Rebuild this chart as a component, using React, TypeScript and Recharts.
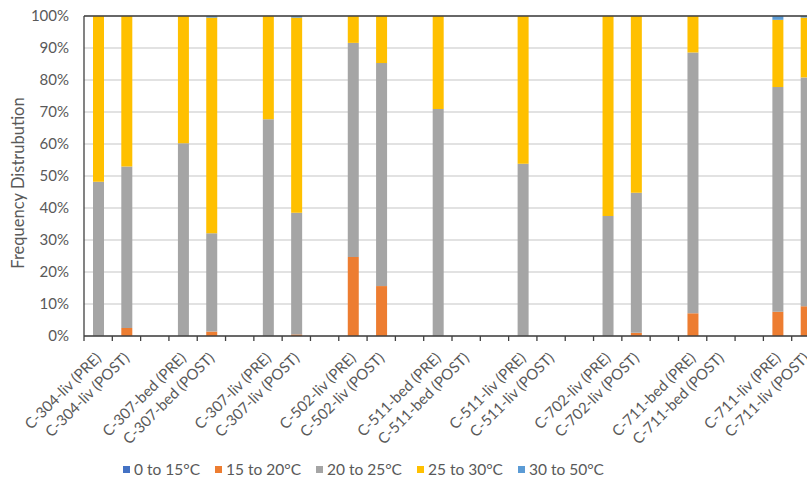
import { BarChart, Bar, XAxis, YAxis, CartesianGrid, Legend, ReferenceLine } from 'recharts';

const labels = [
  'C-304-liv (PRE)', 'C-304-liv (POST)', '',
  'C-307-bed (PRE)', 'C-307-bed (POST)', '',
  'C-307-liv (PRE)', 'C-307-liv (POST)', '',
  'C-502-liv (PRE)', 'C-502-liv (POST)', '',
  'C-511-bed (PRE)', 'C-511-bed (POST)', '',
  'C-511-liv (PRE)', 'C-511-liv (POST)', '',
  'C-702-liv (PRE)', 'C-702-liv (POST)', '',
  'C-711-bed (PRE)', 'C-711-bed (POST)', '',
  'C-711-liv (PRE)', 'C-711-liv (POST)',
];

// percent of time in each band, null = no bar
const t0to15 = [0, 0, null, 0, 0, null, 0, 0, null, 0, 0, null, 0, null, null, 0, null, null, 0, 0, null, 0, null, null, 0, 0];
const t15to20 = [0, 2.5, null, 0, 1.4, null, 0, 0.5, null, 24.7, 15.6, null, 0, null, null, 0, null, null, 0, 1.0, null, 7.1, null, null, 7.6, 9.3];
const t20to25 = [48.2, 50.5, null, 60.2, 30.7, null, 67.7, 38.0, null, 66.9, 69.7, null, 70.9, null, null, 53.8, null, null, 37.5, 43.8, null, 81.5, null, null, 70.2, 71.5];
const t25to30 = [51.8, 47.0, null, 39.8, 67.4, null, 32.3, 61.0, null, 8.4, 14.7, null, 29.1, null, null, 46.2, null, null, 62.5, 55.2, null, 11.4, null, null, 21.0, 18.7];
const t30to50 = [0, 0, null, 0, 0.5, null, 0, 0.5, null, 0, 0, null, 0, null, null, 0, null, null, 0, 0, null, 0, null, null, 1.2, 0.5];

const yTicks = [0, 10, 20, 30, 40, 50, 60, 70, 80, 90, 100];

const series = [
  { key: 'a', name: '0 to 15°C', color: '#4472C4', values: t0to15 },
  { key: 'b', name: '15 to 20°C', color: '#ED7D31', values: t15to20 },
  { key: 'c', name: '20 to 25°C', color: '#A5A5A5', values: t20to25 },
  { key: 'd', name: '25 to 30°C', color: '#FFC000', values: t25to30 },
  { key: 'e', name: '30 to 50°C', color: '#5B9BD5', values: t30to50 },
];

const data = labels.map((label, i) => {
  const row: Record<string, any> = { id: i, label };
  series.forEach((s) => { row[s.key] = s.values[i]; });
  return row;
});

const FONT = 'Lato, "Liberation Sans", sans-serif';
const HALF_BAND = 14.15;

function XTick({ x, y, payload }: any) {
  const text = labels[payload.value] ?? '';
  return (
    <g>
      <line x1={x - HALF_BAND} y1={y - 8} x2={x - HALF_BAND} y2={y - 3} stroke="#404040" strokeWidth={1.3} />
      <text
        x={x + 4}
        y={y + 15}
        transform={`rotate(-45 ${x + 4} ${y + 15})`}
        textAnchor="end"
        fontSize={15}
        fill="#595959"
        fontFamily={FONT}
      >
        {text}
      </text>
    </g>
  );
}

function LegendBox() {
  return (
    <div style={{ display: 'flex', gap: 15, fontFamily: FONT, fontSize: 15.5, color: '#595959' }}>
      {series.map((s) => (
        <div key={s.key} style={{ display: 'flex', alignItems: 'center' }}>
          <span style={{ width: 7, height: 7, background: s.color, marginRight: 4, display: 'inline-block' }} />
          {s.name}
        </div>
      ))}
    </div>
  );
}

export default function App() {
  return (
    <div style={{ position: 'fixed', left: 0, top: 0, width: 807, height: 481, overflow: 'hidden', background: '#fff' }}>
      <BarChart
        width={830}
        height={481}
        data={data}
        margin={{ top: 16, right: 10, bottom: 0, left: 0 }}
        barSize={11}
      >
        <CartesianGrid vertical={false} stroke="#D9D9D9" strokeWidth={1.3} />
        <XAxis
          dataKey="id"
          type="category"
          height={127}
          interval={0}
          tickLine={false}
          axisLine={{ stroke: '#404040', strokeWidth: 1.3 }}
          tick={<XTick />}
        />
        <YAxis
          domain={[0, 100]}
          ticks={yTicks}
          width={84}
          tickLine={false}
          tickSize={0}
          tickMargin={15}
          axisLine={{ stroke: '#404040', strokeWidth: 1.3 }}
          tickFormatter={(v) => `${v}%`}
          tick={{ fontSize: 15, fill: '#595959', fontFamily: FONT }}
          label={() => (
            <text
              x={18}
              y={183}
              transform="rotate(-90 18 183)"
              textAnchor="middle"
              dominantBaseline="central"
              fontSize={16.5}
              fill="#595959"
              fontFamily={FONT}
            >
              Frequency Distrubution
            </text>
          )}
        />
        <ReferenceLine y={100} stroke="#404040" strokeWidth={1.3} />
        {series.map((s) => (
          <Bar key={s.key} dataKey={s.key} name={s.name} stackId="t" fill={s.color} isAnimationActive={false} />
        ))}
        <Legend
          content={() => <LegendBox />}
          wrapperStyle={{ position: 'absolute', left: 123, top: 460, width: 540 }}
        />
      </BarChart>
    </div>
  );
}
